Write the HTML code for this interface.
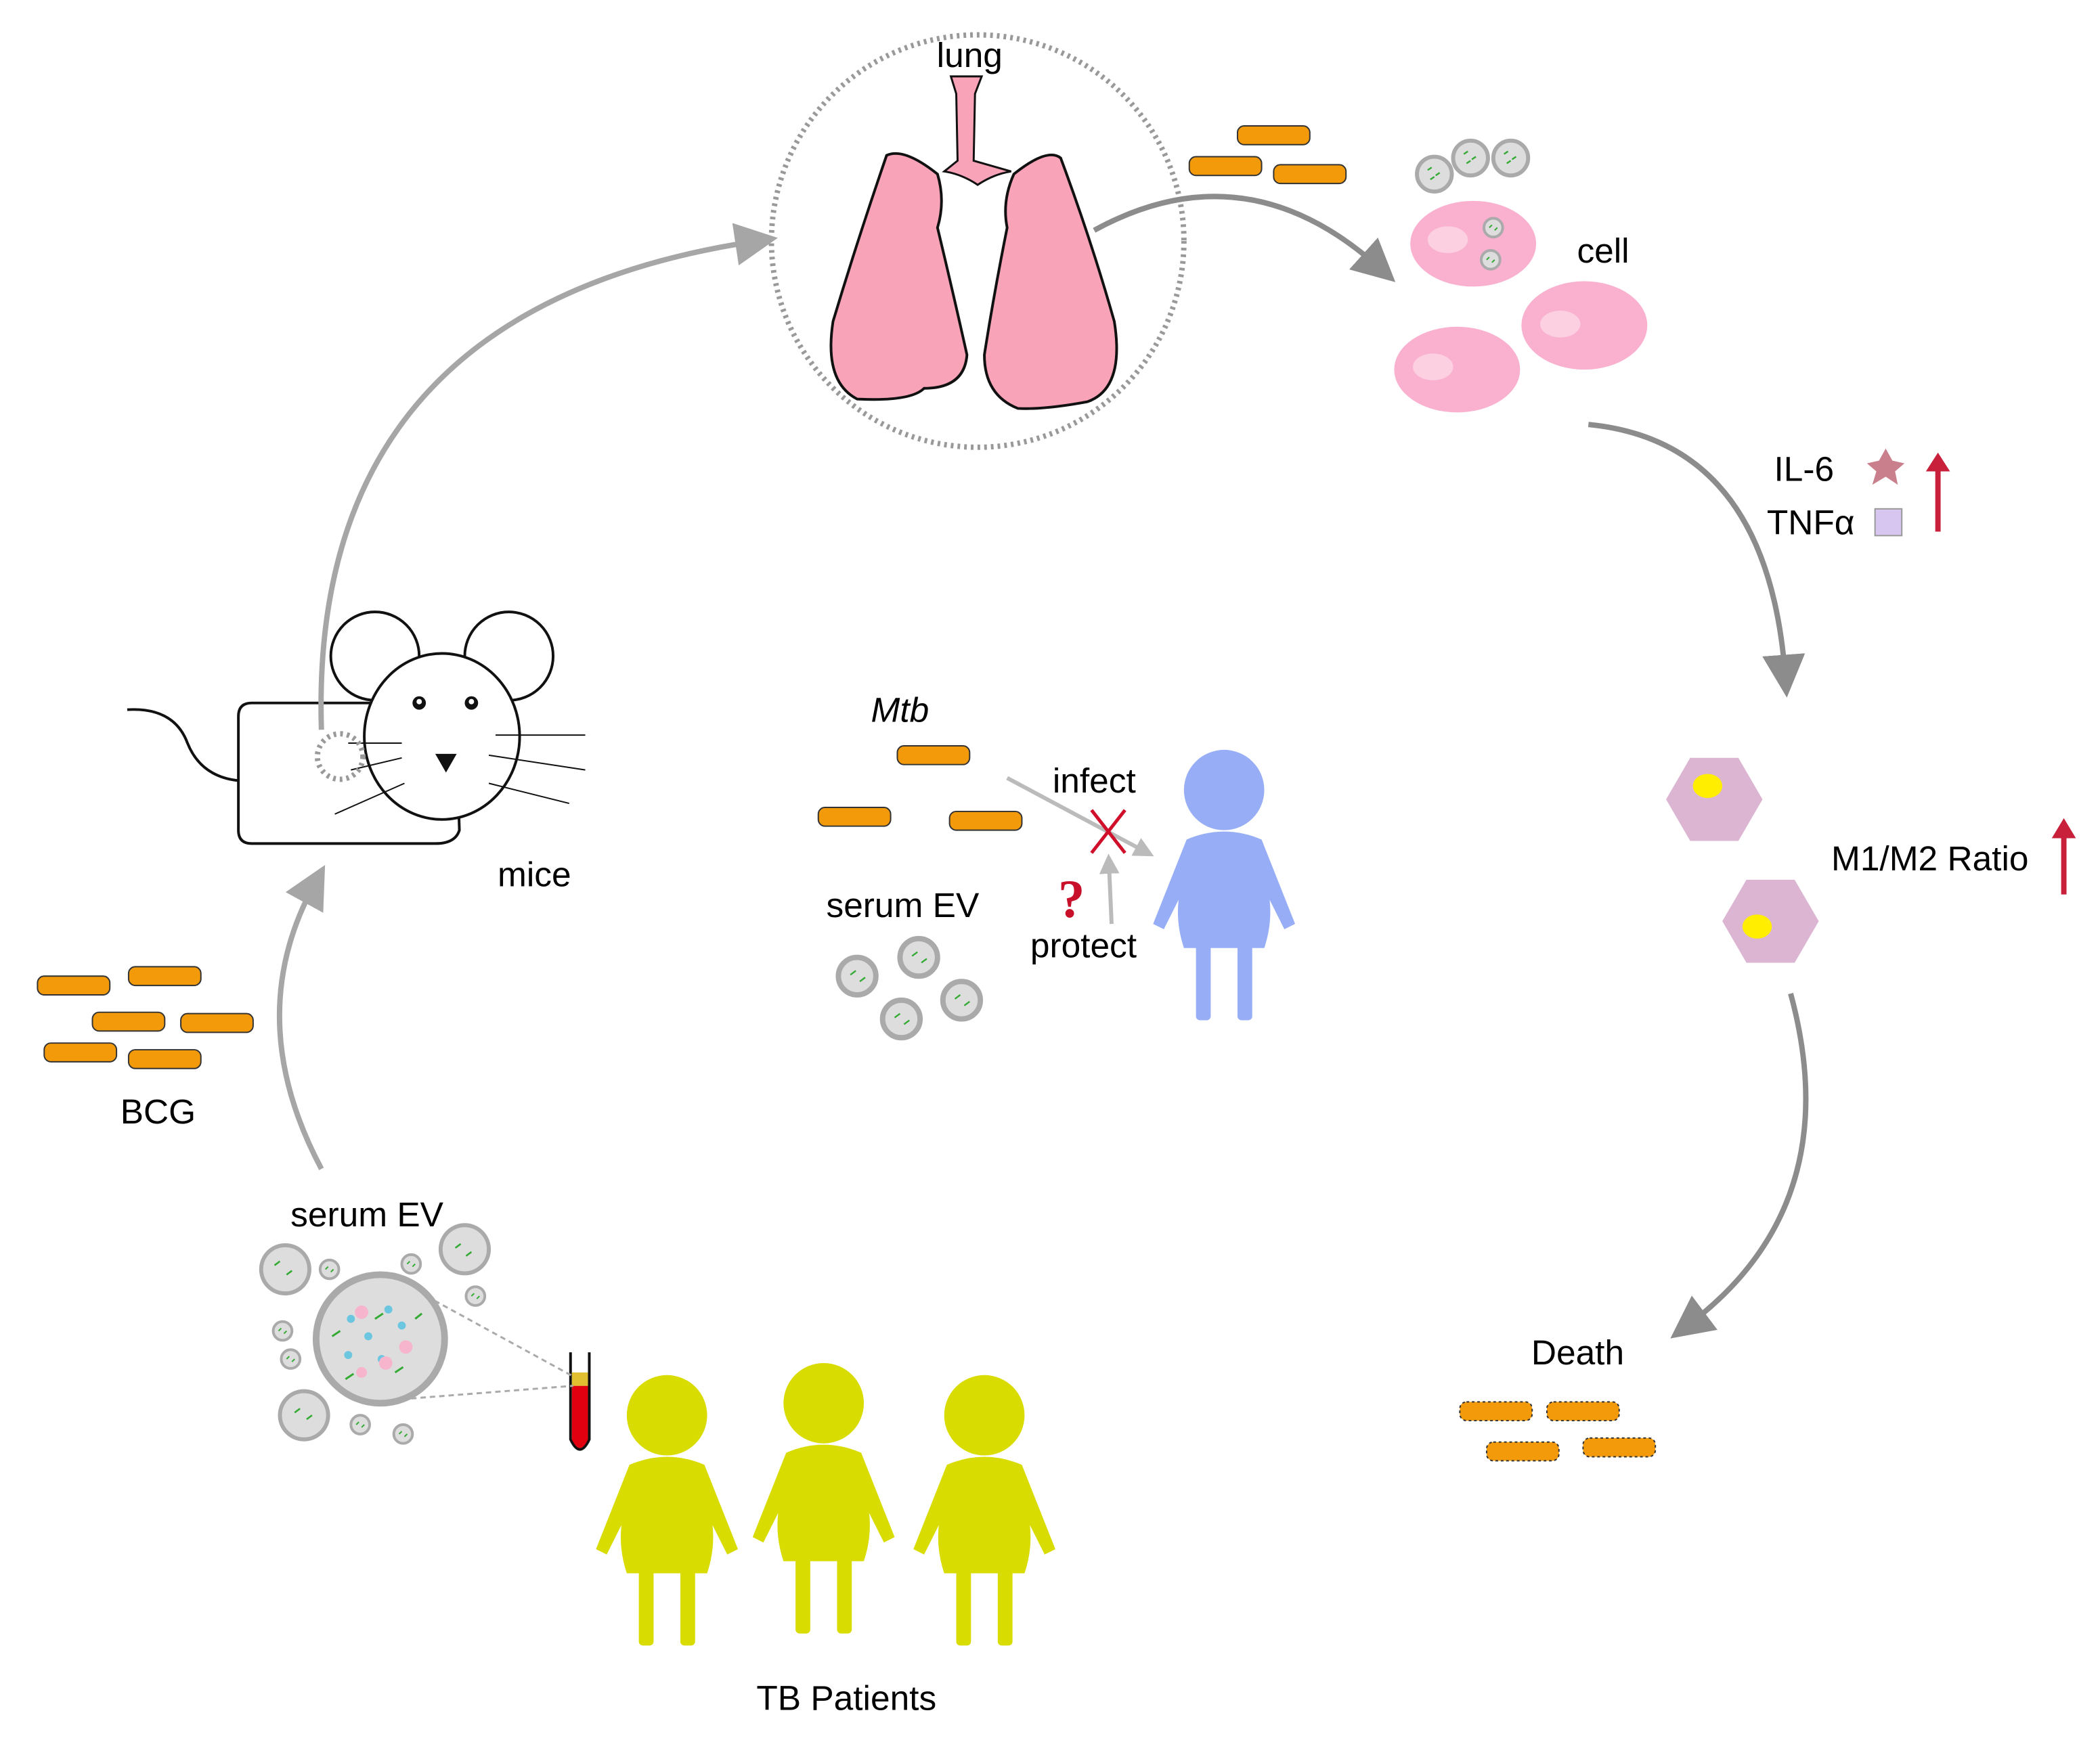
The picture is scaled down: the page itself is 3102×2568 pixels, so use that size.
<!DOCTYPE html>
<html><head><meta charset="utf-8"><style>html,body{margin:0;padding:0;background:#fff}svg{display:block}</style></head>
<body>
<svg width="3102" height="2568" viewBox="0 0 1568 1298" xmlns="http://www.w3.org/2000/svg" font-family="Liberation Sans, Arial, sans-serif">
<defs>
<marker id="ah" viewBox="0 0 10 10" refX="5" refY="5" markerWidth="8" markerHeight="8" orient="auto" markerUnits="strokeWidth"><path d="M0,0 L10,5 L0,10 z" fill="#a6a6a6"/></marker>
<marker id="ah2" viewBox="0 0 10 10" refX="5" refY="5" markerWidth="8" markerHeight="8" orient="auto" markerUnits="strokeWidth"><path d="M0,0 L10,5 L0,10 z" fill="#8c8c8c"/></marker>
<marker id="ahs" viewBox="0 0 10 10" refX="5" refY="5" markerWidth="5" markerHeight="5" orient="auto" markerUnits="strokeWidth"><path d="M0,0 L10,5 L0,10 z" fill="#bbb"/></marker>
<g id="bac"><rect x="0" y="0" width="54" height="14" rx="5" fill="#f39a0a" stroke="#333" stroke-width="1"/></g>
<g id="bacd"><rect x="0" y="0" width="54" height="14" rx="5" fill="#f39a0a" stroke="#333" stroke-width="1" stroke-dasharray="2 2"/></g>
<g id="ev"><circle r="13" fill="#ddd" stroke="#aaa" stroke-width="3"/><path d="M-5,-3 l3,-2 M1,1 l3,-2 M-3,4 l3,-2" stroke="#3a3" stroke-width="1.2"/></g>
<g id="evs"><circle r="7" fill="#ddd" stroke="#aaa" stroke-width="2"/><path d="M-3,0 l2,-2 M1,2 l2,-2" stroke="#3a3" stroke-width="1"/></g>
<g id="pers"><circle cx="0" cy="0" r="30"/><path d="M-28,37 Q0,25 28,37 L53,100 L45,104 L34,82 Q36,100 30,118 L-30,118 Q-36,100 -34,82 L-45,104 L-53,100 Z"/><rect x="-21" y="112" width="11" height="60" rx="3"/><rect x="10" y="112" width="11" height="60" rx="3"/></g>
</defs>

<circle cx="730" cy="180" r="154" fill="none" stroke="#999" stroke-width="4" stroke-dasharray="2 3"/>
<text x="724" y="50" font-size="26" text-anchor="middle">lung</text>
<path d="M710,57 L733,57 L728,70 L727,120 L755,128 Q742,130 730,138 Q718,130 705,128 L715,120 L714,70 Z" fill="#f9a3b8" stroke="#111" stroke-width="1.5"/>
<path d="M700,130 Q675,110 662,116 Q640,180 622,240 Q615,285 640,298 Q680,300 690,290 Q720,290 722,265 Q712,220 700,170 Q706,150 700,130 Z" fill="#f9a3b8" stroke="#111" stroke-width="2"/>
<path d="M757,130 Q782,110 792,118 Q815,180 832,240 Q840,290 812,300 Q780,306 760,305 Q735,295 735,265 Q742,220 752,170 Q748,150 757,130 Z" fill="#f9a3b8" stroke="#111" stroke-width="2"/>

<use href="#bac" x="924" y="94"/><use href="#bac" x="888" y="117"/><use href="#bac" x="951" y="123"/>
<path d="M817,172 Q930,110 1030,200" fill="none" stroke="#8c8c8c" stroke-width="4" marker-end="url(#ah2)"/>
<use href="#ev" x="1071" y="130"/><use href="#ev" x="1098" y="118"/><use href="#ev" x="1128" y="118"/>
<ellipse cx="1100" cy="182" rx="47" ry="32" fill="#f9b1cf"/><ellipse cx="1081" cy="179" rx="15" ry="10" fill="#fcd0e1"/>
<use href="#evs" x="1115" y="170"/><use href="#evs" x="1113" y="194"/>
<ellipse cx="1183" cy="243" rx="47" ry="33" fill="#f9b1cf"/><ellipse cx="1165" cy="242" rx="15" ry="10" fill="#fcd0e1"/>
<ellipse cx="1088" cy="276" rx="47" ry="32" fill="#f9b1cf"/><ellipse cx="1070" cy="274" rx="15" ry="10" fill="#fcd0e1"/>
<text x="1197" y="196" font-size="26" text-anchor="middle">cell</text>

<path d="M1186,317 Q1320,330 1333,505" fill="none" stroke="#8c8c8c" stroke-width="4" marker-end="url(#ah2)"/>
<text x="1347" y="359" font-size="26" text-anchor="middle">IL-6</text>
<path d="M1408,335 L1413,344 L1422,346 L1415,352 L1417,362 L1408,356 L1398,362 L1401,352 L1394,346 L1403,344 Z" fill="#c97f8c"/>
<text x="1352" y="399" font-size="26" text-anchor="middle">TNFα</text>
<rect x="1400" y="380" width="20" height="20" fill="#d7c6ef" stroke="#999"/>
<line x1="1447" y1="397" x2="1447" y2="350" stroke="#c8203a" stroke-width="4"/><path d="M1438,352 L1447,338 L1456,352 Z" fill="#c8203a"/>

<polygon points="1262,566 1298,566 1316,597 1298,628 1262,628 1244,597" fill="#dbb5d2"/>
<ellipse cx="1275" cy="587" rx="11" ry="9" fill="#ffee00"/>
<polygon points="1304,657 1340,657 1358,688 1340,719 1304,719 1286,688" fill="#dbb5d2"/>
<ellipse cx="1312" cy="692" rx="11" ry="9" fill="#ffee00"/>
<text x="1441" y="650" font-size="26" text-anchor="middle">M1/M2 Ratio</text>
<line x1="1541" y1="668" x2="1541" y2="624" stroke="#c8203a" stroke-width="4"/><path d="M1532,626 L1541,611 L1550,626 Z" fill="#c8203a"/>

<path d="M1337,742 Q1380,900 1260,990" fill="none" stroke="#8c8c8c" stroke-width="4" marker-end="url(#ah2)"/>
<text x="1178" y="1019" font-size="26" text-anchor="middle">Death</text>
<use href="#bacd" x="1090" y="1047"/><use href="#bacd" x="1155" y="1047"/><use href="#bacd" x="1110" y="1077"/><use href="#bacd" x="1182" y="1074"/>

<g fill="#d9dc00"><use href="#pers" x="498" y="1057"/><use href="#pers" x="615" y="1048"/><use href="#pers" x="735" y="1057"/></g>
<text x="632" y="1277" font-size="26" text-anchor="middle">TB Patients</text>
<path d="M426,1010 L426,1075 Q433,1090 440,1075 L440,1010" fill="#fff" stroke="#111" stroke-width="2"/>
<path d="M427,1035 L427,1075 Q433,1088 439,1075 L439,1035 Z" fill="#e00010"/>
<rect x="427" y="1025" width="12" height="10" fill="#e0c030"/>
<line x1="300" y1="958" x2="428" y2="1028" stroke="#aaa" stroke-width="1.5" stroke-dasharray="4 3"/>
<line x1="300" y1="1045" x2="428" y2="1035" stroke="#aaa" stroke-width="1.5" stroke-dasharray="4 3"/>

<text x="274" y="916" font-size="26" text-anchor="middle">serum EV</text>
<circle cx="284" cy="1000" r="48" fill="#ddd" stroke="#aaa" stroke-width="5"/>
<g fill="#6cc6e0"><circle cx="262" cy="985" r="3"/><circle cx="290" cy="978" r="3"/><circle cx="275" cy="998" r="3"/><circle cx="300" cy="990" r="3"/><circle cx="260" cy="1012" r="3"/><circle cx="285" cy="1015" r="3"/></g>
<g fill="#f6b5cd"><circle cx="270" cy="980" r="5"/><circle cx="303" cy="1006" r="5"/><circle cx="288" cy="1018" r="5"/><circle cx="270" cy="1025" r="4"/></g>
<g stroke="#3a3" stroke-width="1.5"><path d="M248,998 l6,-4 M280,985 l6,-4 M295,1025 l6,-4 M258,1030 l6,-4 M310,985 l5,-4"/></g>
<circle cx="213" cy="948" r="18" fill="#ddd" stroke="#aaa" stroke-width="3"/>
<circle cx="347" cy="933" r="18" fill="#ddd" stroke="#aaa" stroke-width="3"/>
<circle cx="227" cy="1057" r="18" fill="#ddd" stroke="#aaa" stroke-width="3"/>
<g stroke="#3a3" stroke-width="1.3"><path d="M205,945 l4,-3 M214,952 l4,-3 M340,932 l4,-3 M348,938 l4,-3 M220,1055 l4,-3 M229,1060 l4,-3"/></g>
<use href="#evs" x="246" y="948"/><use href="#evs" x="307" y="944"/><use href="#evs" x="355" y="968"/><use href="#evs" x="211" y="994"/><use href="#evs" x="217" y="1015"/><use href="#evs" x="269" y="1064"/><use href="#evs" x="301" y="1071"/>

<path d="M240,873 Q180,760 235,660" fill="none" stroke="#a6a6a6" stroke-width="4" marker-end="url(#ah)"/>
<use href="#bac" x="28" y="729"/><use href="#bac" x="96" y="722"/><use href="#bac" x="69" y="756"/><use href="#bac" x="135" y="757"/><use href="#bac" x="33" y="779"/><use href="#bac" x="96" y="784"/>
<text x="118" y="839" font-size="26" text-anchor="middle">BCG</text>

<path d="M95,530 Q130,528 140,555 Q150,580 178,583" fill="none" stroke="#111" stroke-width="2"/>
<path d="M188,525 L340,525 L343,620 Q340,630 325,630 L188,630 Q178,630 178,620 L178,535 Q178,525 188,525 Z" fill="#fff" stroke="#111" stroke-width="2"/>
<circle cx="280" cy="490" r="33" fill="#fff" stroke="#111" stroke-width="2"/>
<circle cx="380" cy="490" r="33" fill="#fff" stroke="#111" stroke-width="2"/>
<ellipse cx="330" cy="550" rx="58" ry="62" fill="#fff" stroke="#111" stroke-width="2"/>
<circle cx="313" cy="525" r="5" fill="#111"/><circle cx="313" cy="524" r="2" fill="#fff"/>
<circle cx="352" cy="525" r="5" fill="#111"/><circle cx="352" cy="524" r="2" fill="#fff"/>
<path d="M325,563 L341,563 L333,577 Z" fill="#111"/>
<g stroke="#111" stroke-width="1"><line x1="260" y1="555" x2="300" y2="555"/><line x1="262" y1="575" x2="300" y2="566"/><line x1="250" y1="608" x2="302" y2="585"/><line x1="370" y1="549" x2="437" y2="549"/><line x1="365" y1="564" x2="437" y2="575"/><line x1="365" y1="585" x2="425" y2="600"/></g>
<circle cx="254" cy="565" r="17" fill="none" stroke="#999" stroke-width="4" stroke-dasharray="2 3"/>
<text x="399" y="662" font-size="26" text-anchor="middle">mice</text>
<path d="M240,545 Q230,230 565,180" fill="none" stroke="#a6a6a6" stroke-width="4" marker-end="url(#ah)"/>

<text x="672" y="539" font-size="26" font-style="italic" text-anchor="middle">Mtb</text>
<use href="#bac" x="670" y="557"/><use href="#bac" x="611" y="603"/><use href="#bac" x="709" y="606"/>
<text x="817" y="592" font-size="26" text-anchor="middle">infect</text>
<line x1="752" y1="581" x2="855" y2="636" stroke="#bbb" stroke-width="3" marker-end="url(#ahs)"/>
<line x1="830" y1="690" x2="828" y2="645" stroke="#bbb" stroke-width="3" marker-end="url(#ahs)"/>
<path d="M815,605 L840,637 M840,605 L815,637" stroke="#d0102a" stroke-width="2.5"/>
<text x="800" y="685" font-size="40" font-weight="bold" fill="#c8102a" text-anchor="middle" font-family="Liberation Serif, serif">?</text>
<text x="809" y="715" font-size="26" text-anchor="middle">protect</text>
<text x="674" y="685" font-size="26" text-anchor="middle">serum EV</text>
<g><circle cx="640" cy="729" r="14" fill="#ddd" stroke="#aaa" stroke-width="4"/><circle cx="686" cy="715" r="14" fill="#ddd" stroke="#aaa" stroke-width="4"/><circle cx="718" cy="747" r="14" fill="#ddd" stroke="#aaa" stroke-width="4"/><circle cx="673" cy="761" r="14" fill="#ddd" stroke="#aaa" stroke-width="4"/></g>
<g stroke="#3a3" stroke-width="1.2"><path d="M635,728 l4,-3 M642,733 l4,-3 M681,714 l4,-3 M688,719 l4,-3 M713,746 l4,-3 M720,751 l4,-3 M668,760 l4,-3 M675,765 l4,-3"/></g>
<g fill="#97aef7"><use href="#pers" x="914" y="590"/></g>
</svg>
</body></html>
